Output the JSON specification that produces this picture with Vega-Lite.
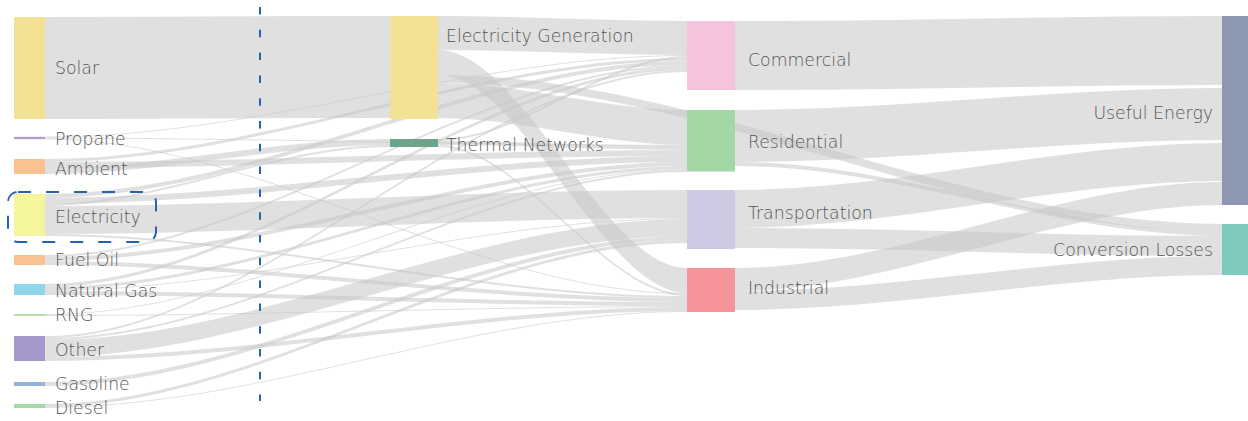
{
"$schema": "https://vega.github.io/schema/vega-lite/v6.json",
"width": 1248, "height": 421, "padding": 0,
"autosize": {"type": "fit", "contains": "padding"},
"background": "white",
"config": {"view": {"stroke": null}, "text": {"font": "DejaVu Sans", "fontSize": 17.3, "fontWeight": 200, "color": "#555555", "baseline": "middle"}},
"datasets": {
"links": [
{"link":1,"x":14,"top":17,"bottom":119},{"link":1,"x":45,"top":17,"bottom":119},{"link":1,"x":390,"top":16,"bottom":118},{"link":1,"x":438,"top":16,"bottom":118},
{"link":2,"x":14,"top":136.5,"bottom":137.5},{"link":2,"x":45,"top":136.5,"bottom":137.5},{"link":2,"x":687,"top":55,"bottom":56},{"link":2,"x":735,"top":55,"bottom":56},
{"link":3,"x":14,"top":137.5,"bottom":138.5},{"link":3,"x":45,"top":137.5,"bottom":138.5},{"link":3,"x":687,"top":145,"bottom":146},{"link":3,"x":735,"top":145,"bottom":146},
{"link":4,"x":14,"top":138.5,"bottom":139.5},{"link":4,"x":45,"top":138.5,"bottom":139.5},{"link":4,"x":687,"top":293,"bottom":294},{"link":4,"x":735,"top":293,"bottom":294},
{"link":5,"x":14,"top":159,"bottom":162},{"link":5,"x":45,"top":159,"bottom":162},{"link":5,"x":687,"top":58,"bottom":61},{"link":5,"x":735,"top":58,"bottom":61},
{"link":6,"x":14,"top":162,"bottom":168},{"link":6,"x":45,"top":162,"bottom":168},{"link":6,"x":687,"top":150,"bottom":156},{"link":6,"x":735,"top":150,"bottom":156},
{"link":7,"x":14,"top":168,"bottom":174},{"link":7,"x":45,"top":168,"bottom":174},{"link":7,"x":390,"top":139,"bottom":145},{"link":7,"x":438,"top":139,"bottom":145},
{"link":8,"x":14,"top":194,"bottom":198},{"link":8,"x":45,"top":194,"bottom":198},{"link":8,"x":687,"top":61,"bottom":65},{"link":8,"x":735,"top":61,"bottom":65},
{"link":9,"x":14,"top":198,"bottom":204},{"link":9,"x":45,"top":198,"bottom":204},{"link":9,"x":687,"top":156,"bottom":162},{"link":9,"x":735,"top":156,"bottom":162},
{"link":10,"x":14,"top":204,"bottom":206},{"link":10,"x":45,"top":204,"bottom":206},{"link":10,"x":390,"top":145,"bottom":147},{"link":10,"x":438,"top":145,"bottom":147},
{"link":11,"x":14,"top":206,"bottom":234},{"link":11,"x":45,"top":206,"bottom":234},{"link":11,"x":687,"top":190,"bottom":218},{"link":11,"x":735,"top":190,"bottom":218},
{"link":12,"x":14,"top":234,"bottom":236},{"link":12,"x":45,"top":234,"bottom":236},{"link":12,"x":687,"top":296,"bottom":298},{"link":12,"x":735,"top":296,"bottom":298},
{"link":13,"x":14,"top":255,"bottom":257},{"link":13,"x":45,"top":255,"bottom":257},{"link":13,"x":687,"top":65,"bottom":67},{"link":13,"x":735,"top":65,"bottom":67},
{"link":14,"x":14,"top":257,"bottom":261},{"link":14,"x":45,"top":257,"bottom":261},{"link":14,"x":687,"top":162,"bottom":166},{"link":14,"x":735,"top":162,"bottom":166},
{"link":15,"x":14,"top":261,"bottom":265},{"link":15,"x":45,"top":261,"bottom":265},{"link":15,"x":687,"top":298,"bottom":302},{"link":15,"x":735,"top":298,"bottom":302},
{"link":16,"x":14,"top":284,"bottom":287},{"link":16,"x":45,"top":284,"bottom":287},{"link":16,"x":687,"top":67,"bottom":70},{"link":16,"x":735,"top":67,"bottom":70},
{"link":17,"x":14,"top":287,"bottom":290},{"link":17,"x":45,"top":287,"bottom":290},{"link":17,"x":687,"top":166,"bottom":169},{"link":17,"x":735,"top":166,"bottom":169},
{"link":18,"x":14,"top":290,"bottom":291},{"link":18,"x":45,"top":290,"bottom":291},{"link":18,"x":687,"top":218,"bottom":219},{"link":18,"x":735,"top":218,"bottom":219},
{"link":19,"x":14,"top":291,"bottom":295},{"link":19,"x":45,"top":291,"bottom":295},{"link":19,"x":687,"top":302,"bottom":306},{"link":19,"x":735,"top":302,"bottom":306},
{"link":20,"x":14,"top":314,"bottom":315},{"link":20,"x":45,"top":314,"bottom":315},{"link":20,"x":687,"top":169,"bottom":170},{"link":20,"x":735,"top":169,"bottom":170},
{"link":21,"x":14,"top":315,"bottom":316},{"link":21,"x":45,"top":315,"bottom":316},{"link":21,"x":687,"top":306,"bottom":307},{"link":21,"x":735,"top":306,"bottom":307},
{"link":22,"x":14,"top":336,"bottom":338},{"link":22,"x":45,"top":336,"bottom":338},{"link":22,"x":687,"top":70,"bottom":72},{"link":22,"x":735,"top":70,"bottom":72},
{"link":23,"x":14,"top":338,"bottom":340},{"link":23,"x":45,"top":338,"bottom":340},{"link":23,"x":687,"top":170,"bottom":172},{"link":23,"x":735,"top":170,"bottom":172},
{"link":24,"x":14,"top":340,"bottom":357},{"link":24,"x":45,"top":340,"bottom":357},{"link":24,"x":687,"top":219,"bottom":236},{"link":24,"x":735,"top":219,"bottom":236},
{"link":25,"x":14,"top":357,"bottom":361},{"link":25,"x":45,"top":357,"bottom":361},{"link":25,"x":687,"top":307,"bottom":311},{"link":25,"x":735,"top":307,"bottom":311},
{"link":26,"x":14,"top":382,"bottom":386},{"link":26,"x":45,"top":382,"bottom":386},{"link":26,"x":687,"top":236,"bottom":240},{"link":26,"x":735,"top":236,"bottom":240},
{"link":27,"x":14,"top":404,"bottom":407},{"link":27,"x":45,"top":404,"bottom":407},{"link":27,"x":687,"top":240,"bottom":243},{"link":27,"x":735,"top":240,"bottom":243},
{"link":28,"x":14,"top":407,"bottom":408},{"link":28,"x":45,"top":407,"bottom":408},{"link":28,"x":687,"top":311,"bottom":312},{"link":28,"x":735,"top":311,"bottom":312},
{"link":29,"x":390,"top":16,"bottom":50},{"link":29,"x":438,"top":16,"bottom":50},{"link":29,"x":687,"top":21,"bottom":55},{"link":29,"x":735,"top":21,"bottom":55},
{"link":30,"x":390,"top":83,"bottom":118},{"link":30,"x":438,"top":83,"bottom":118},{"link":30,"x":687,"top":110,"bottom":145},{"link":30,"x":735,"top":110,"bottom":145},
{"link":31,"x":390,"top":75,"bottom":83},{"link":31,"x":438,"top":75,"bottom":83},{"link":31,"x":1222,"top":224,"bottom":232},{"link":31,"x":1248,"top":224,"bottom":232},
{"link":32,"x":390,"top":50,"bottom":75},{"link":32,"x":438,"top":50,"bottom":75},{"link":32,"x":687,"top":268,"bottom":293},{"link":32,"x":735,"top":268,"bottom":293},
{"link":33,"x":390,"top":139,"bottom":141},{"link":33,"x":438,"top":139,"bottom":141},{"link":33,"x":687,"top":56,"bottom":58},{"link":33,"x":735,"top":56,"bottom":58},
{"link":34,"x":390,"top":141,"bottom":145},{"link":34,"x":438,"top":141,"bottom":145},{"link":34,"x":687,"top":146,"bottom":150},{"link":34,"x":735,"top":146,"bottom":150},
{"link":35,"x":390,"top":145,"bottom":147},{"link":35,"x":438,"top":145,"bottom":147},{"link":35,"x":687,"top":294,"bottom":296},{"link":35,"x":735,"top":294,"bottom":296},
{"link":36,"x":687,"top":21,"bottom":90},{"link":36,"x":735,"top":21,"bottom":90},{"link":36,"x":1222,"top":16,"bottom":85},{"link":36,"x":1248,"top":16,"bottom":85},
{"link":37,"x":687,"top":110,"bottom":162},{"link":37,"x":735,"top":110,"bottom":162},{"link":37,"x":1222,"top":88,"bottom":140},{"link":37,"x":1248,"top":88,"bottom":140},
{"link":38,"x":687,"top":162,"bottom":166},{"link":38,"x":735,"top":162,"bottom":166},{"link":38,"x":1222,"top":232,"bottom":236},{"link":38,"x":1248,"top":232,"bottom":236},
{"link":39,"x":687,"top":190,"bottom":228},{"link":39,"x":735,"top":190,"bottom":228},{"link":39,"x":1222,"top":143,"bottom":181},{"link":39,"x":1248,"top":143,"bottom":181},
{"link":40,"x":687,"top":228,"bottom":248},{"link":40,"x":735,"top":228,"bottom":248},{"link":40,"x":1222,"top":236,"bottom":256},{"link":40,"x":1248,"top":236,"bottom":256},
{"link":41,"x":687,"top":268,"bottom":291},{"link":41,"x":735,"top":268,"bottom":291},{"link":41,"x":1222,"top":182,"bottom":205},{"link":41,"x":1248,"top":182,"bottom":205},
{"link":42,"x":687,"top":291,"bottom":310},{"link":42,"x":735,"top":291,"bottom":310},{"link":42,"x":1222,"top":256,"bottom":275},{"link":42,"x":1248,"top":256,"bottom":275}
],
"nodes": [
{"name":"Solar","col":0,"x0":14,"x1":45,"y0":17,"y1":119,"ly":69},
{"name":"Propane","col":0,"x0":14,"x1":45,"y0":137,"y1":139,"ly":140},
{"name":"Ambient","col":0,"x0":14,"x1":45,"y0":159,"y1":174,"ly":170},
{"name":"Electricity","col":0,"x0":14,"x1":45,"y0":194,"y1":236,"ly":218},
{"name":"Fuel Oil","col":0,"x0":14,"x1":45,"y0":255,"y1":265,"ly":261},
{"name":"Natural Gas","col":0,"x0":14,"x1":45,"y0":284,"y1":295,"ly":292},
{"name":"RNG","col":0,"x0":14,"x1":45,"y0":314,"y1":316,"ly":316},
{"name":"Other","col":0,"x0":14,"x1":45,"y0":336,"y1":361,"ly":350.5},
{"name":"Gasoline","col":0,"x0":14,"x1":45,"y0":382,"y1":386,"ly":385},
{"name":"Diesel","col":0,"x0":14,"x1":45,"y0":404,"y1":408,"ly":409},
{"name":"Electricity Generation","col":1,"x0":390,"x1":438,"y0":16,"y1":119,"ly":37},
{"name":"Thermal Networks","col":1,"x0":390,"x1":438,"y0":139,"y1":147,"ly":146},
{"name":"Commercial","col":2,"x0":687,"x1":735,"y0":21,"y1":90,"ly":60.5},
{"name":"Residential","col":2,"x0":687,"x1":735,"y0":110,"y1":171,"ly":142.5},
{"name":"Transportation","col":2,"x0":687,"x1":735,"y0":190,"y1":249,"ly":214.3},
{"name":"Industrial","col":2,"x0":687,"x1":735,"y0":268,"y1":312,"ly":288.5},
{"name":"Useful Energy","col":3,"x0":1222,"x1":1248,"y0":16,"y1":205,"ly":113.5},
{"name":"Conversion Losses","col":3,"x0":1222,"x1":1248,"y0":224,"y1":275,"ly":251}
],
"divider": [{"x":260,"y":7,"y2":401}],
"highlight": [{"x":8,"x2":156,"y":192,"y2":242}]
},
"layer": [
{"data":{"name":"links"},
 "mark":{"type":"area","interpolate":"monotone","color":"#c8c8c8","fillOpacity":0.56},
 "encoding":{
  "x":{"field":"x","type":"quantitative","scale":{"domain":[0,1248],"nice":false,"zero":false},"axis":null},
  "y":{"field":"top","type":"quantitative","scale":{"domain":[0,421],"reverse":true,"nice":false,"zero":false},"axis":null},
  "y2":{"field":"bottom"},
  "detail":{"field":"link","type":"nominal"}}},
{"data":{"name":"nodes"},
 "mark":{"type":"rect"},
 "encoding":{
  "x":{"field":"x0","type":"quantitative"},"x2":{"field":"x1"},
  "y":{"field":"y0","type":"quantitative"},"y2":{"field":"y1"},
  "color":{"field":"name","type":"nominal","legend":null,"scale":{
   "domain":["Solar","Propane","Ambient","Electricity","Fuel Oil","Natural Gas","RNG","Other","Gasoline","Diesel","Electricity Generation","Thermal Networks","Commercial","Residential","Transportation","Industrial","Useful Energy","Conversion Losses"],
   "range":["#f3e194","#b49dca","#f9c293","#f5f59b","#f9c293","#8fd6ec","#b8e2a2","#a598ca","#93b3d8","#a5d9a3","#f3e194","#6ea58a","#f5c4dc","#a3d7a3","#cfcae4","#f6949b","#8c97b2","#7fc9bd"]}}}},
{"data":{"name":"nodes"},"transform":[{"filter":"datum.col == 0"}],
 "mark":{"type":"text","align":"left","dx":10},
 "encoding":{"x":{"field":"x1","type":"quantitative"},"y":{"field":"ly","type":"quantitative"},"text":{"field":"name"}}},
{"data":{"name":"nodes"},"transform":[{"filter":"datum.col == 1"}],
 "mark":{"type":"text","align":"left","dx":8},
 "encoding":{"x":{"field":"x1","type":"quantitative"},"y":{"field":"ly","type":"quantitative"},"text":{"field":"name"}}},
{"data":{"name":"nodes"},"transform":[{"filter":"datum.col == 2"}],
 "mark":{"type":"text","align":"left","dx":13},
 "encoding":{"x":{"field":"x1","type":"quantitative"},"y":{"field":"ly","type":"quantitative"},"text":{"field":"name"}}},
{"data":{"name":"nodes"},"transform":[{"filter":"datum.col == 3"}],
 "mark":{"type":"text","align":"right","dx":-9},
 "encoding":{"x":{"field":"x0","type":"quantitative"},"y":{"field":"ly","type":"quantitative"},"text":{"field":"name"}}},
{"data":{"name":"divider"},
 "mark":{"type":"rule","color":"#2763ad","strokeWidth":2,"strokeDash":[7.5,15.3]},
 "encoding":{"x":{"field":"x","type":"quantitative"},"y":{"field":"y","type":"quantitative"},"y2":{"field":"y2"}}},
{"data":{"name":"highlight"},
 "mark":{"type":"rect","filled":false,"color":"#2763ad","strokeWidth":2,"strokeDash":[13,15],"cornerRadius":10},
 "encoding":{"x":{"field":"x","type":"quantitative"},"x2":{"field":"x2"},"y":{"field":"y","type":"quantitative"},"y2":{"field":"y2"}}}
]
}
